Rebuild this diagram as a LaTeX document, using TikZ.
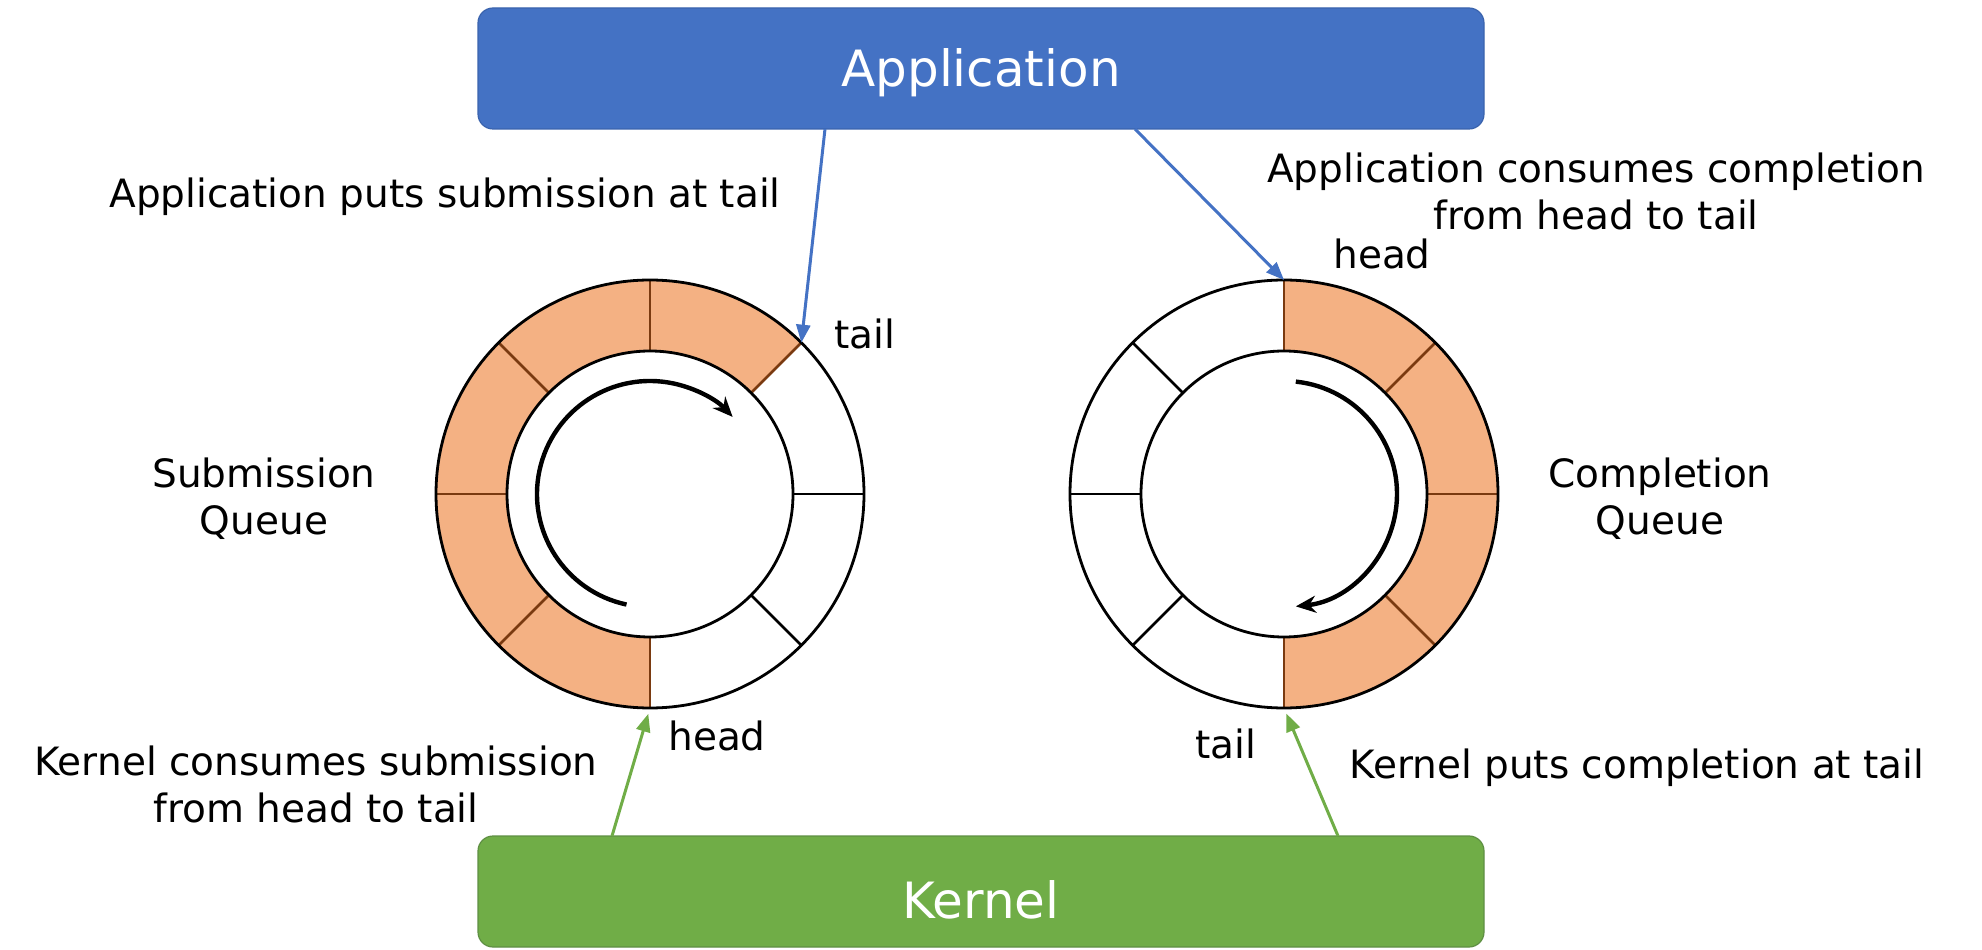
\documentclass[tikz,border=0pt]{standalone}
\usepackage{fontspec}
\setmainfont{DejaVu Sans}
\usepackage{tikz}
\usetikzlibrary{positioning,arrows.meta}

\definecolor{appblue}{HTML}{4472C4}
\definecolor{appedge}{HTML}{3A63AD}
\definecolor{kerngreen}{HTML}{70AD47}
\definecolor{kernedge}{HTML}{5E8F43}
\definecolor{slotfill}{HTML}{F4B183}
\definecolor{slotbrown}{HTML}{7A3A10}

\begin{document}
\begin{tikzpicture}[x=0.5pt,y=0.5pt,
		bigbox/.style={rectangle, rounded corners=7.5pt, minimum width=503pt, inner sep=0, outer sep=0, text=white, line width=0.6pt, font=\fontsize{25}{30}\selectfont},
		lbl/.style={font=\fontsize{19.5}{23.5}\selectfont, align=center, inner sep=0, text=black},
		ringline/.style={line width=1.4pt},
		slotline/.style={line width=1.4pt, draw=slotbrown},
		turn/.style={line width=2.2pt, -{Stealth[length=10pt,width=8.5pt]}},
		appline/.style={every edge/.style={draw=appblue, line width=1.5pt, -{Triangle[length=9pt,width=7pt]}}},
		kernline/.style={every edge/.style={draw=kerngreen, line width=1.5pt, shorten >=3pt, -{Triangle[length=9pt,width=7pt]}}}]
		\useasboundingbox (0,0) rectangle (1982,949);
		\node[bigbox, fill=appblue, draw=appedge, minimum height=60.5pt, text height=24pt, text depth=6pt] (app) at (981,880.5) {Application};
		\node[bigbox, fill=kerngreen, draw=kernedge, minimum height=55.5pt, text height=27pt, text depth=0pt] (kern) at (981,57.5) {Kernel};
		\coordinate (sq) at (650,455);
		\coordinate (cq) at (1284,455);
		% submission queue
		\fill[slotfill] ([shift={(45:214)}]sq) arc (45:270:214) -- ([shift={(270:143)}]sq) arc (270:45:143) -- cycle;
		\foreach \a in {45,90,...,270} {
			\draw[slotline] ([shift={(\a:143)}]sq) -- ([shift={(\a:214)}]sq);
		};
		\foreach \a in {315,360} {
			\draw[ringline] ([shift={(\a:143)}]sq) -- ([shift={(\a:214)}]sq);
		};
		\draw[ringline] (sq) circle (214) (sq) circle (143);
		\draw[turn] ([shift={(258:113)}]sq) arc (258:43:113);
		% completion queue
		\fill[slotfill] ([shift={(-90:214)}]cq) arc (-90:90:214) -- ([shift={(90:143)}]cq) arc (90:-90:143) -- cycle;
		\foreach \a in {-90,-45,...,90} {
			\draw[slotline] ([shift={(\a:143)}]cq) -- ([shift={(\a:214)}]cq);
		};
		\foreach \a in {135,180,225} {
			\draw[ringline] ([shift={(\a:143)}]cq) -- ([shift={(\a:214)}]cq);
		};
		\draw[ringline] (cq) circle (214) (cq) circle (143);
		\draw[turn] ([shift={(84:113)}]cq) arc (84:-84:113);
		\coordinate (sqtail) at ([shift={(45:214)}]sq);
		\coordinate (sqhead) at ([shift={(270:214)}]sq);
		\coordinate (cqhead) at ([shift={(90:214)}]cq);
		\coordinate (cqtail) at ([shift={(270:214)}]cq);
		% labels
		\node[lbl] (puts) at (445,752) {Application puts submission at tail};
		\node[lbl] (eats) at (1596,757.5) {Application consumes completion\\from head to tail};
		\node[lbl] (sqname) at (264,450) {Submission\\Queue};
		\node[lbl] (cqname) at (1660,450) {Completion\\Queue};
		\node[lbl] (sqtaillbl) at (865,615) {tail};
		\node[lbl] (cqheadlbl) at (1382,695) {head};
		\node[lbl] (sqheadlbl) at (717,213) {head};
		\node[lbl] (cqtaillbl) at (1226,205) {tail};
		\node[lbl] (kconsume) at (316,165) {Kernel consumes submission\\from head to tail};
		\node[lbl] (kputs) at (1637,181) {Kernel puts completion at tail};
		% connectors
		\path[appline]
			([shift={(-156,0)}]app.south) edge (sqtail)
			([shift={(154,0)}]app.south) edge (cqhead);
		\path[kernline]
			([shift={(-369,0)}]kern.north) edge (sqhead)
			([shift={(357,0)}]kern.north) edge (cqtail);
	\end{tikzpicture}
\end{document}
